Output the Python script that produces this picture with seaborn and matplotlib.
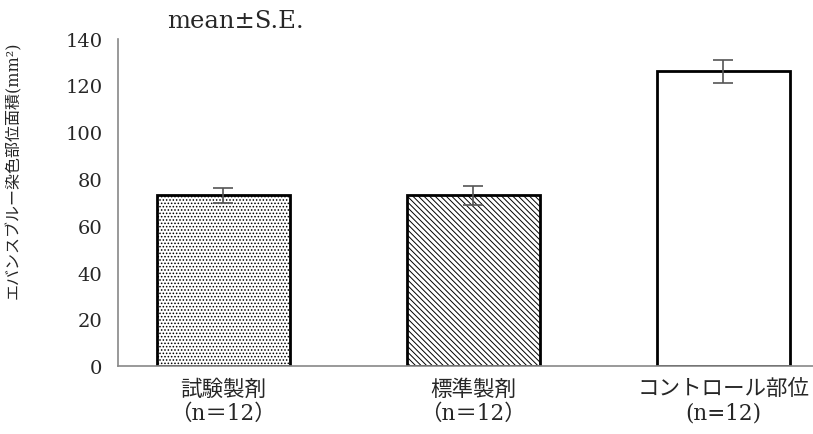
import matplotlib
matplotlib.use("Agg")
import matplotlib.pyplot as plt
import seaborn as sns
import pandas as pd

categories = ["試験製剤\n（n＝12）", "標準製剤\n（n＝12）", "コントロール部位\n(n=12)"]
means = [73, 73, 126]
se = [3.3, 4.0, 5.0]
hatches = [".....", "\\\\\\\\\\\\", ""]
yticks = [0, 20, 40, 60, 80, 100, 120, 140]

sns.set_theme(style="white")
plt.rcParams["font.family"] = ["DejaVu Serif", "Noto Sans CJK JP"]
plt.rcParams["hatch.color"] = "#333333"
plt.rcParams["hatch.linewidth"] = 0.7

df = pd.DataFrame({"cat": categories, "mean": means})

fig = plt.figure(figsize=(8.13, 4.35), dpi=100)
ax = fig.add_axes([0.145, 0.1556, 0.855, 0.7535])

sns.barplot(data=df, x="cat", y="mean", color="white", edgecolor="black",
            linewidth=2, width=0.53, ax=ax, errorbar=None)
for patch, h in zip(ax.patches, hatches):
    patch.set_hatch(h)

ax.errorbar(range(len(categories)), means, yerr=se, fmt="none",
            ecolor="#555555", elinewidth=1.2, capsize=7, capthick=1.2, zorder=5)

ax.set_xlim(-0.422, 2.358)
ax.set_ylim(0, 140)
ax.set_yticks(yticks)
ax.tick_params(axis="y", which="major", direction="out", length=5, width=1,
               color="#888888", labelsize=14, pad=6)
ax.tick_params(axis="x", length=0, labelsize=15.5, pad=8)
for lbl in ax.get_xticklabels():
    lbl.set_linespacing(1.15)
ax.set_xlabel("")
ax.set_ylabel("エバンスブルー染色部位面積(mm²)", fontsize=11.5)
ax.yaxis.set_label_coords(-0.138, 0.6)

for s in ["top", "right"]:
    ax.spines[s].set_visible(False)
for s in ["left", "bottom"]:
    ax.spines[s].set_color("#888888")
    ax.spines[s].set_linewidth(1.2)

fig.text(0.205, 0.925, "mean±S.E.", fontsize=17.5, ha="left", va="bottom")

fig.savefig("out.png", dpi=100)
